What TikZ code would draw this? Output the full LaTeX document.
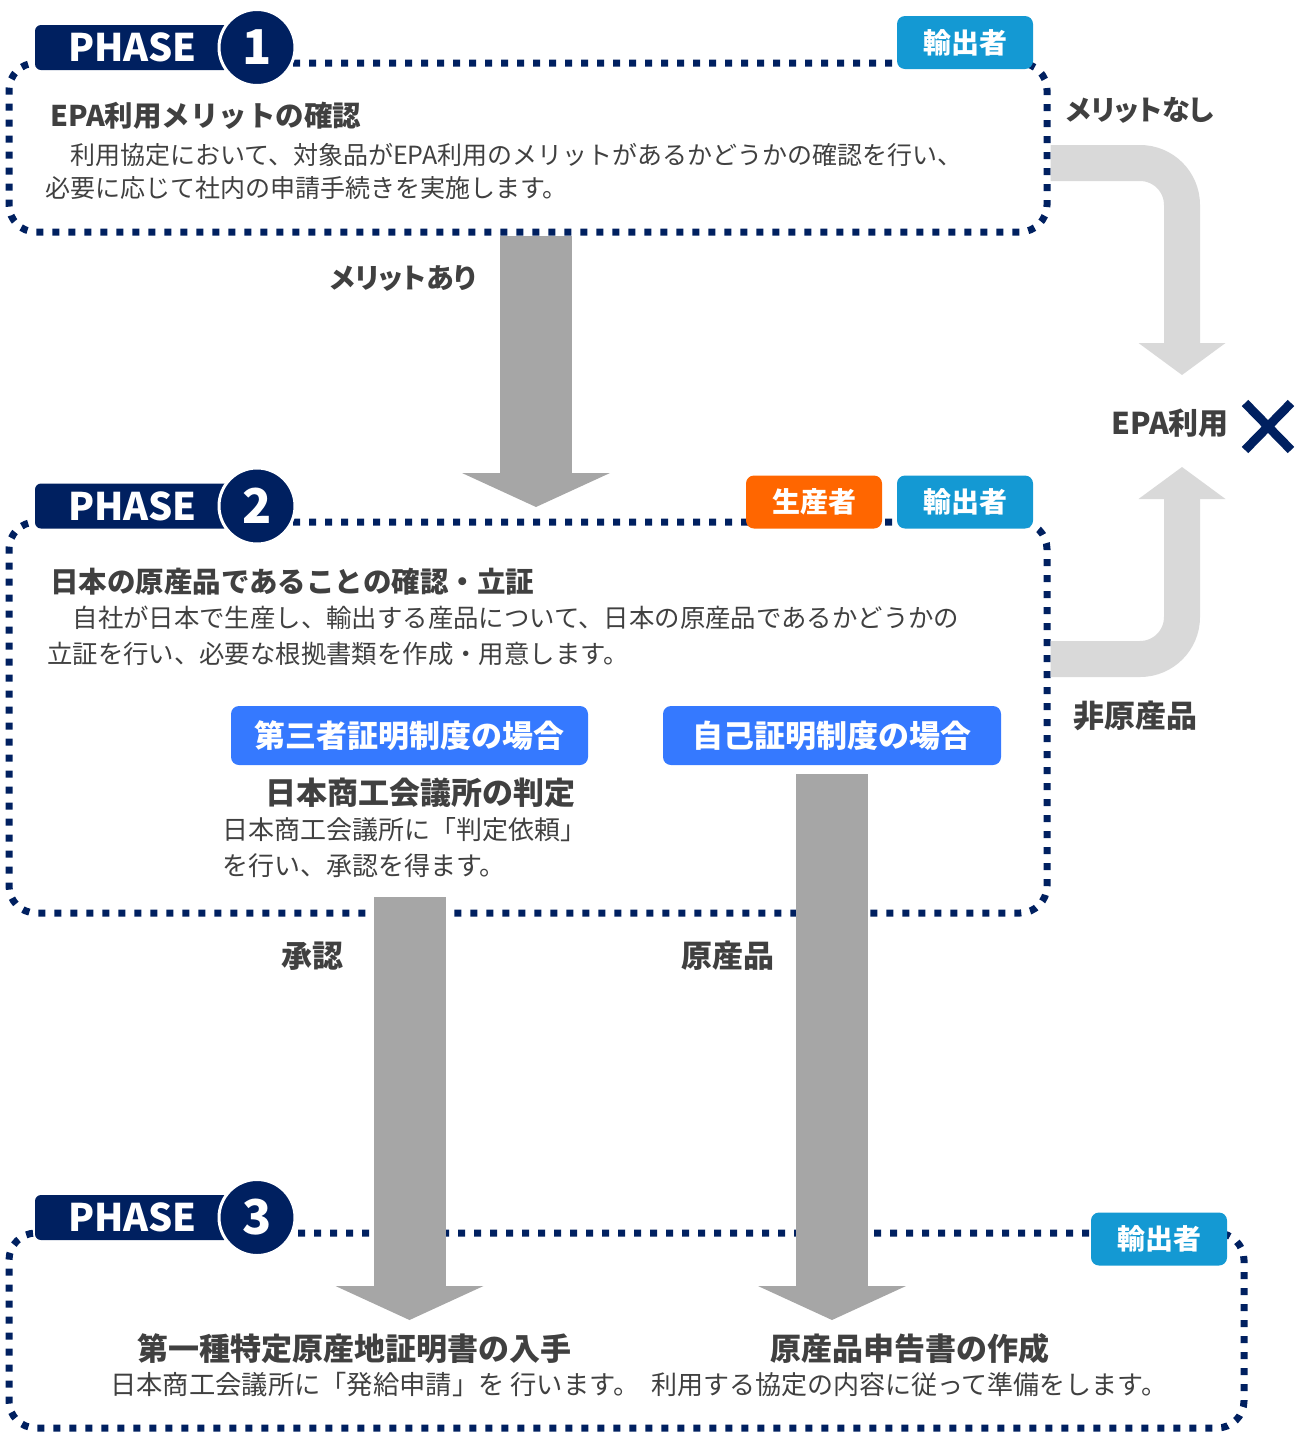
\documentclass[tikz,border=0pt]{standalone}
\usepackage{fontspec}
\setmainfont{Noto Sans CJK JP}
\newfontfamily\jppalt{Noto Sans CJK JP}[RawFeature=+palt]
\usetikzlibrary{arrows.meta}
\definecolor{navy}{HTML}{002060}
\definecolor{expcyan}{HTML}{1499D3}
\definecolor{prodorange}{HTML}{FF6600}
\definecolor{caseblue}{HTML}{3579FF}
\definecolor{arrowgray}{HTML}{A6A6A6}
\definecolor{palegray}{HTML}{D9D9D9}
\definecolor{txtgray}{HTML}{404040}
\newcommand\setfs[1]{\fontsize{#1}{#1}\selectfont}
\tikzset{
  dotbox/.style={draw=navy, line width=7pt, dash pattern=on 7pt off 9pt, rounded corners=27pt},
  phasebox/.style={fill=navy, rounded corners=6pt, minimum width=195pt, minimum height=45pt, text=white, font=\bfseries\setfs{38}},
  phasenum/.style={circle, fill=navy, draw=white, line width=3pt, minimum size=76pt, inner sep=0pt, text=white, font=\bfseries\setfs{48}},
  rolebox/.style={rounded corners=8pt, minimum width=136pt, minimum height=53pt, inner sep=0pt, text=white, font=\bfseries\setfs{28}},
  casebox/.style={fill=caseblue, rounded corners=8pt, minimum height=59pt, inner sep=0pt, text=white, font=\bfseries\setfs{31}},
  headtxt/.style={text=txtgray, anchor=west, inner sep=0pt, font=\bfseries\setfs{28.5}},
  subhead/.style={text=txtgray, inner sep=0pt, font=\bfseries\setfs{31}},
  bodytxt/.style={text=txtgray, anchor=west, inner sep=0pt, align=left, font=\fontsize{25}{36}\selectfont},
  flowlabel/.style={text=txtgray, inner sep=0pt, font=\bfseries\setfs{31}},
  kanalabel/.style={text=txtgray, inner sep=0pt, font=\jppalt\bfseries\setfs{28}},
  bigarrow/.style={draw=arrowgray, line width=72pt, -{Triangle[width=148pt, length=34pt, line width=0pt]}},
  lightarrow/.style={draw=palegray, line width=36pt, rounded corners=42pt, -{Triangle[width=87pt, length=32pt, line width=0pt]}}
}
\begin{document}
\begin{tikzpicture}[x=1pt,y=-1pt]
\useasboundingbox (0,0) rectangle (1294,1433);

% phase 1
\node[dotbox, minimum width=1038pt, minimum height=169pt] (p1) at (528,147.5) {};
\node[phasebox] (ph1) at (132.5,47.5) {PHASE};
\node[phasenum] (n1) at (257,47.5) {1};
\node[rolebox, fill=expcyan] (exp1) at (965,42.5) {輸出者};
\node[headtxt] (h1) at (50,116) {EPA利用メリットの確認};
\node[bodytxt, font=\fontsize{25}{33}\selectfont] (b1) at (45,171.5) {　利用協定において、対象品がEPA利用のメリットがあるかどうかの確認を行い、\\必要に応じて社内の申請手続きを実施します。};

% phase 2
\node[dotbox, minimum width=1038pt, minimum height=391pt] (p2) at (528,717.5) {};
\node[phasebox] (ph2) at (132.5,506) {PHASE};
\node[phasenum] (n2) at (257,506) {2};
\node[rolebox, fill=prodorange] (prod2) at (814,502) {生産者};
\node[rolebox, fill=expcyan] (exp2) at (965,502) {輸出者};
\node[headtxt] (h2) at (50,582) {日本の原産品であることの確認・立証};
\node[bodytxt, font=\fontsize{25.4}{36}\selectfont] (b2) at (47,636) {　自社が日本で生産し、輸出する産品について、日本の原産品であるかどうかの\\立証を行い、必要な根拠書類を作成・用意します。};
\node[casebox, minimum width=357pt] (third) at (409.5,735.5) {第三者証明制度の場合};
\node[casebox, minimum width=338pt] (self) at (832,735.5) {自己証明制度の場合};
\node[subhead] (judge) at (420.5,793) {日本商工会議所の判定};
\node[bodytxt, font=\fontsize{26}{36}\selectfont] (judgetxt) at (222,848) {日本商工会議所に「判定依頼」\\を行い、承認を得ます。};

% phase 3
\node[dotbox, minimum width=1235pt, minimum height=195pt] (p3) at (626.5,1330.5) {};
\node[phasebox] (ph3) at (132.5,1217.5) {PHASE};
\node[phasenum] (n3) at (257,1217.5) {3};
\node[rolebox, fill=expcyan] (exp3) at (1159,1239) {輸出者};
\node[subhead] (cert) at (354,1349) {第一種特定原産地証明書の入手};
\node[bodytxt, font=\setfs{26.3}] (certtxt) at (110,1385) {日本商工会議所に「発給申請」を 行います。};
\node[subhead] (decl) at (910,1349) {原産品申告書の作成};
\node[bodytxt, font=\setfs{26}] (decltxt) at (651,1385) {利用する協定の内容に従って準備をします。};

% not using EPA
\node[flowlabel, font=\bfseries\setfs{30}] (epa) at (1170,423) {EPA利用};
\draw[navy, line width=9pt] (1245,403) -- (1291,450) (1245,450) -- (1291,403);
\coordinate (ngtop) at (1182,375);
\coordinate (ngbot) at (1182,467);
\draw[lightarrow] (p1.east |- 0,163) -| (ngtop);
\draw[lightarrow] (p2.east |- 0,659) -| (ngbot);
\node[kanalabel] (nomerit) at (1140,110) {メリットなし};
\node[flowlabel] (nonorig) at (1135,716) {非原産品};

% flow arrows
\draw[bigarrow] (p1.south -| 536,0) -- (536,507);
\node[kanalabel] (merit) at (403,278) {メリットあり};
\draw[bigarrow] (third.south |- 0,897) -- (third.south |- 0,1320);
\draw[bigarrow] ([yshift=-9pt]self.south) -- (self.south |- 0,1320);
\node[flowlabel] (approve) at (312,956) {承認};
\node[flowlabel] (orig) at (728,956) {原産品};
\end{tikzpicture}
\end{document}
